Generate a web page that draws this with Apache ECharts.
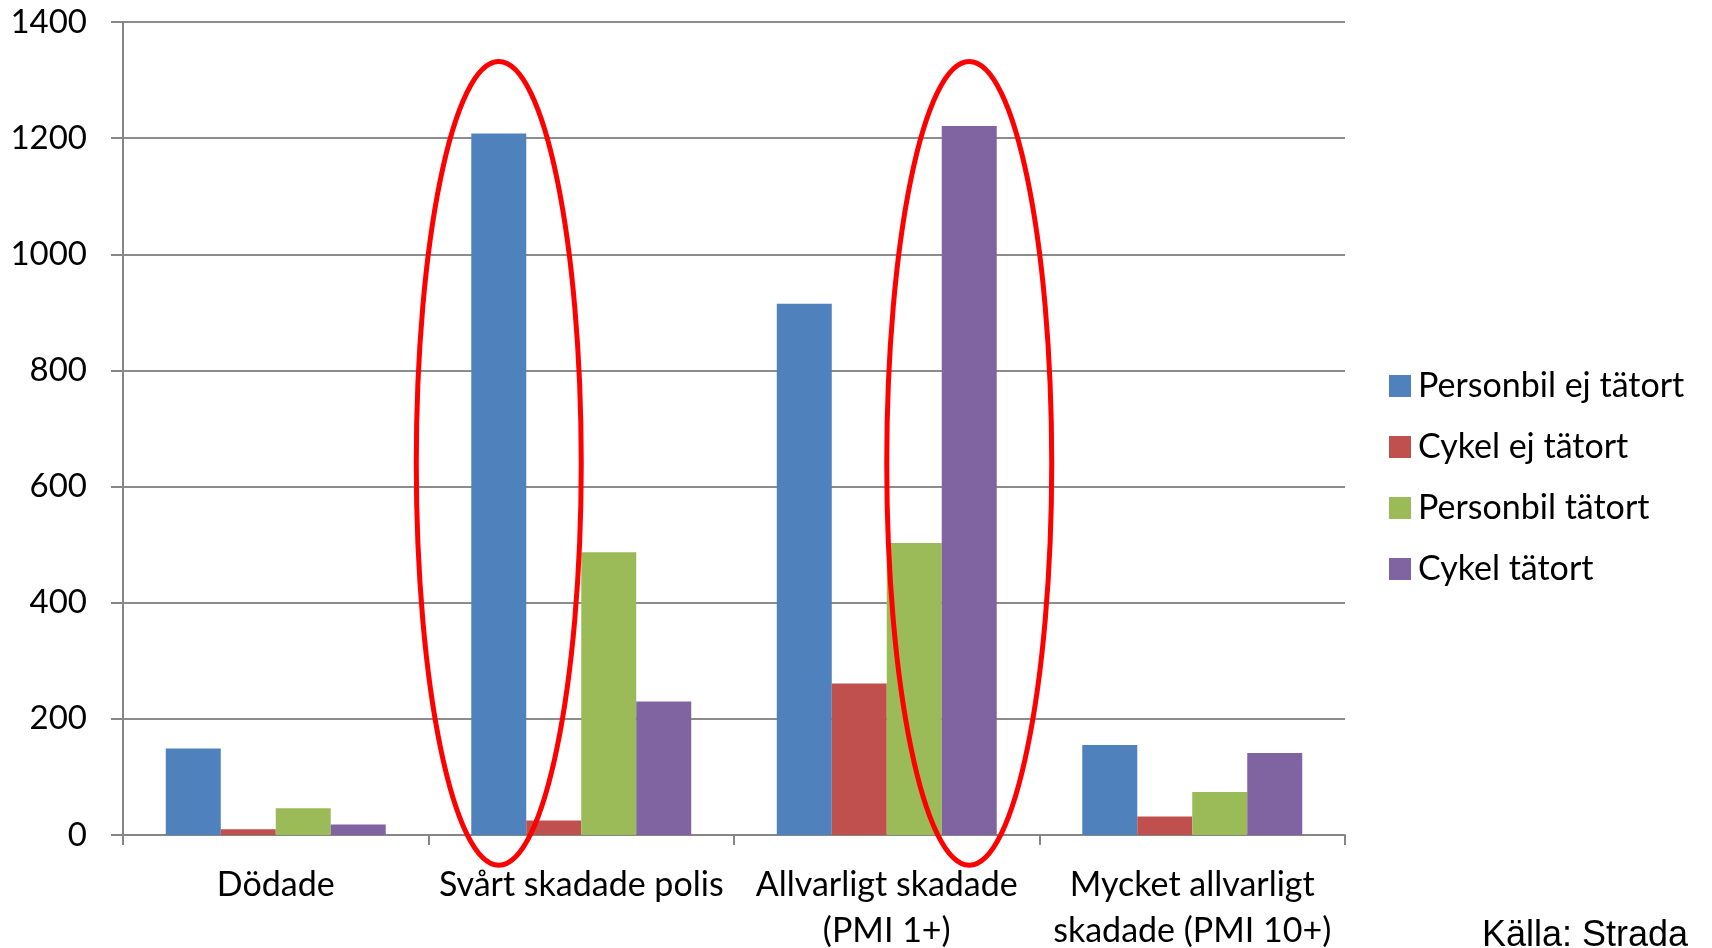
<!DOCTYPE html>
<html>
<head>
<meta charset="utf-8">
<script src="https://cdn.jsdelivr.net/npm/echarts@6/dist/echarts.min.js"></script>
<style>
html,body{margin:0;padding:0;background:#fff;}
#chart{width:1712px;height:948px;}
</style>
</head>
<body>
<div id="chart"></div>
<script>
const categories = ['Dödade', 'Svårt skadade polis', 'Allvarligt skadade\n(PMI 1+)', 'Mycket allvarligt\nskadade (PMI 10+)'];
const seriesNames = ['Personbil ej tätort', 'Cykel ej tätort', 'Personbil tätort', 'Cykel tätort'];
const personbilEjTatort = [149, 1208, 915, 155];
const cykelEjTatort = [10, 25, 261, 32];
const personbilTatort = [46, 487, 503, 74];
const cykelTatort = [18, 230, 1221, 141];
const yTicks = [0, 200, 400, 600, 800, 1000, 1200, 1400];
const sourceText = 'Källa: Strada';
// highlighted bars: [category index, series index]
const highlighted = [[1, 0], [2, 3]];

const colors = ['#4F81BD', '#C0504D', '#9BBB59', '#8064A2'];
const seriesData = [personbilEjTatort, cykelEjTatort, personbilTatort, cykelTatort];
const FONT = 'Lato';
const chart = echarts.init(document.getElementById('chart'));

const option = {
  animation: false,
  backgroundColor: '#fff',
  color: colors,
  grid: {left: 123, right: 367, top: 22, bottom: 113, containLabel: false, outerBoundsMode: 'none'},
  legend: {
    orient: 'vertical',
    left: 1384, top: 364,
    itemWidth: 22, itemHeight: 22, itemGap: 27,
    icon: 'rect',
    data: seriesNames,
    textStyle: {fontFamily: FONT, fontSize: 34, color: '#000', lineHeight: 34, padding: [0,0,0,2]}
  },
  xAxis: {
    type: 'category',
    data: categories,
    axisLine: {lineStyle: {color: '#868686', width: 2}},
    axisTick: {show: true, length: 10, lineStyle: {color: '#868686', width: 2}},
    axisLabel: {fontFamily: FONT, fontSize: 34, color: '#000', lineHeight: 46, margin: 27, interval: 0}
  },
  yAxis: {
    type: 'value',
    min: 0, max: 1400, interval: 200,
    axisLine: {show: true, lineStyle: {color: '#868686', width: 2}},
    axisTick: {show: true, length: 12, lineStyle: {color: '#868686', width: 2}},
    splitLine: {lineStyle: {color: '#8c8c8c', width: 2}},
    axisLabel: {fontFamily: FONT, fontSize: 33, color: '#000', margin: 36,
      formatter: v => yTicks.includes(v) ? String(v) : ''}
  },
  series: seriesNames.map((n, i) => ({
    name: n, type: 'bar', data: seriesData[i],
    barGap: '0%', barCategoryGap: '28%',
    itemStyle: {color: colors[i]}
  }))
};
chart.setOption(option);

function drawAnnotations() {
  const c0 = chart.convertToPixel({xAxisIndex: 0}, 0);
  const c1 = chart.convertToPixel({xAxisIndex: 0}, 1);
  const band = c1 - c0;
  const barW = band * 0.72 / 4;
  const yTop = chart.convertToPixel({yAxisIndex: 0}, 1332);
  const yBot = chart.convertToPixel({yAxisIndex: 0}, -52);
  const graphics = highlighted.map(([ci, si]) => {
    const cx = chart.convertToPixel({xAxisIndex: 0}, ci) + (si - 1.5) * barW;
    return {
      type: 'ellipse',
      shape: {cx: cx, cy: (yTop + yBot) / 2, rx: barW * 1.5, ry: (yBot - yTop) / 2},
      style: {fill: 'none', stroke: '#FF0000', lineWidth: 5},
      z: 100
    };
  });
  graphics.push({
    type: 'text', left: 1482, top: 918, z: 100,
    style: {text: sourceText, font: '36px "Liberation Sans"', fill: '#000'}
  });
  chart.setOption({graphic: graphics});
}
drawAnnotations();
</script>
</body>
</html>
